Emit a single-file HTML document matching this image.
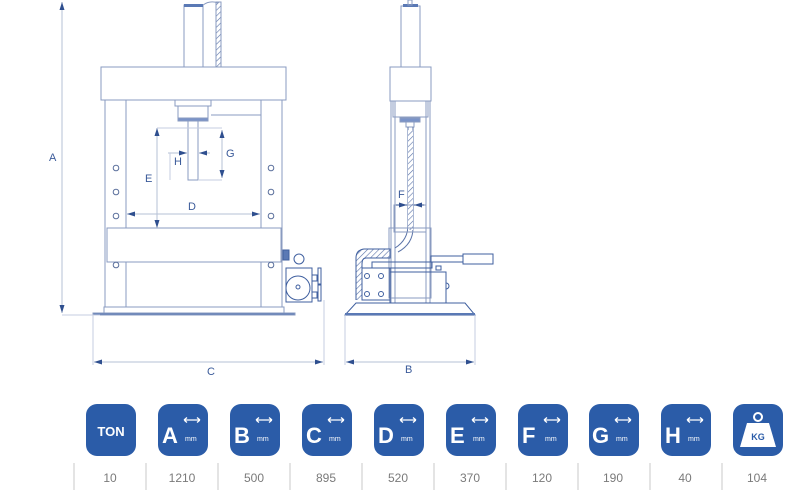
<!DOCTYPE html>
<html><head><meta charset="utf-8"><style>
html,body{margin:0;padding:0;background:#fff;width:795px;height:494px;overflow:hidden}
svg{display:block}
text{font-family:"Liberation Sans",sans-serif}
</style></head><body>
<svg width="795" height="494" viewBox="0 0 795 494" xmlns="http://www.w3.org/2000/svg">
<defs>
<pattern id="h" width="4" height="4" patternUnits="userSpaceOnUse" patternTransform="rotate(45)"><rect width="4" height="4" fill="#fff"/><line x1="0" y1="0" x2="0" y2="4" stroke="#5a73a8" stroke-width="1.2"/></pattern>
<marker id="ar" markerWidth="8" markerHeight="5" refX="8" refY="2.5" orient="auto"><path d="M0,0 L8,2.5 L0,5z" fill="#2f4f8f"/></marker>
<marker id="al" markerWidth="8" markerHeight="5" refX="0" refY="2.5" orient="auto"><path d="M8,0 L0,2.5 L8,5z" fill="#2f4f8f"/></marker>
</defs>
<g fill="none" stroke="#8a9bc0" stroke-width="1">
<rect x="184" y="5" width="19" height="62" fill="#fff"/>
<rect x="184" y="4" width="19" height="3" fill="#5a79b5" stroke="none"/>
<rect x="216" y="2" width="5" height="65" fill="url(#h)"/>
<path d="M203,5 Q210,0 218,3"/>
<rect x="101" y="67" width="185" height="33" fill="#fff"/>
<rect x="105" y="100" width="21" height="207"/>
<rect x="261" y="100" width="21" height="207"/>
<rect x="175" y="100" width="36" height="6"/>
<rect x="178" y="106" width="30" height="14"/>
<rect x="178" y="118" width="30" height="3" fill="#7a93c8"/>
<rect x="188" y="121" width="10" height="59"/>
<line x1="211" y1="115" x2="261" y2="115"/>
<rect x="107" y="228" width="174" height="34" fill="#fff"/>
<rect x="104" y="307" width="180" height="6"/>
<rect x="93" y="313" width="202" height="2" fill="#5a79b5"/>
<g stroke="#5a6f9c">
<circle cx="116" cy="168" r="2.8"/><circle cx="116" cy="192" r="2.8"/><circle cx="116" cy="216" r="2.8"/><circle cx="116" cy="265" r="2.8"/>
<circle cx="271" cy="168" r="2.8"/><circle cx="271" cy="192" r="2.8"/><circle cx="271" cy="216" r="2.8"/><circle cx="271" cy="265" r="2.8"/>
</g>
<g stroke="#3f5f9f">
<rect x="283" y="250" width="6" height="10" fill="#5a79b5"/>
<rect x="286" y="268" width="26" height="34"/>
<circle cx="298" cy="288" r="12"/>
<circle cx="298" cy="287" r="2"/>
<circle cx="299" cy="259" r="5"/>
<rect x="312" y="275" width="5" height="6"/><rect x="318" y="268" width="3" height="16"/>
<rect x="312" y="292" width="5" height="6"/><rect x="318" y="285" width="3" height="16"/>
</g>
<line x1="62" y1="2" x2="62" y2="313" stroke="#b5c0d6" marker-start="url(#al)" marker-end="url(#ar)"/>
<line x1="62" y1="315" x2="100" y2="315" stroke="#c5cde0"/>
<line x1="93" y1="315" x2="93" y2="365" stroke="#c5cde0"/>
<line x1="324" y1="300" x2="324" y2="365" stroke="#c5cde0"/>
<line x1="94" y1="362" x2="323" y2="362" stroke="#b5c0d6" marker-start="url(#al)" marker-end="url(#ar)"/>
<line x1="127" y1="214" x2="260" y2="214" stroke="#b5c0d6" marker-start="url(#al)" marker-end="url(#ar)"/>
<line x1="157" y1="128" x2="157" y2="228" stroke="#b5c0d6" marker-start="url(#al)" marker-end="url(#ar)"/>
<line x1="157" y1="128" x2="222" y2="128" stroke="#c5cde0"/>
<line x1="198" y1="180" x2="222" y2="180" stroke="#c5cde0"/>
<line x1="222" y1="130" x2="222" y2="178" stroke="#b5c0d6" marker-start="url(#al)" marker-end="url(#ar)"/>
<line x1="168" y1="153" x2="187" y2="153" stroke="#b5c0d6" marker-end="url(#ar)"/>
<line x1="210" y1="153" x2="199" y2="153" stroke="#b5c0d6" marker-end="url(#ar)"/>
<line x1="170" y1="153" x2="170" y2="180" stroke="#c5cde0"/>
<rect x="401" y="6" width="19" height="61"/>
<rect x="403" y="4" width="15" height="3" fill="#5a79b5" stroke="none"/>
<rect x="408" y="0" width="4" height="5"/>
<rect x="390" y="67" width="41" height="34" fill="#fff"/>
<rect x="393" y="101" width="35" height="16"/>
<line x1="391" y1="101" x2="391" y2="303"/><line x1="395" y1="101" x2="395" y2="303"/>
<line x1="426" y1="101" x2="426" y2="303"/><line x1="430" y1="101" x2="430" y2="303"/>
<rect x="400" y="118" width="20" height="4" fill="#7a93c8"/>
<rect x="406" y="122" width="8" height="5"/>
<path d="M408,127 L408,225 Q408,240 395,248 M413,127 L413,228 Q413,244 398,252" stroke="#5a73a8"/>
<rect x="408" y="130" width="5" height="100" fill="url(#h)" stroke="none"/>
<rect x="394" y="205" width="32" height="27"/>
<rect x="389" y="228" width="42" height="70"/>
<g stroke="#3f5f9f">
<path d="M356,300 L356,258 Q356,250 364,249 L390,249 L390,258 L366,258 Q362,258 362,264 L362,300" fill="url(#h)"/>
<rect x="372" y="262" width="60" height="6"/>
<rect x="431" y="256" width="32" height="6"/>
<rect x="463" y="254" width="30" height="10"/>
<rect x="362" y="268" width="28" height="32"/>
<rect x="390" y="272" width="56" height="31"/>
<circle cx="367" cy="276" r="2.5"/><circle cx="381" cy="276" r="2.5"/>
<circle cx="367" cy="294" r="2.5"/><circle cx="381" cy="294" r="2.5"/>
<rect x="436" y="266" width="5" height="4"/>
<path d="M446,283 a3,3 0 0 1 0,6"/>
<path d="M356,303 L465,303 L475,315 L345,315 Z" fill="#fff"/>
<rect x="345" y="313" width="130" height="2" fill="#5a79b5" stroke="none"/>
</g>
<line x1="345" y1="315" x2="345" y2="365" stroke="#c5cde0"/>
<line x1="475" y1="315" x2="475" y2="365" stroke="#c5cde0"/>
<line x1="346" y1="362" x2="474" y2="362" stroke="#b5c0d6" marker-start="url(#al)" marker-end="url(#ar)"/>
<line x1="396" y1="205" x2="407" y2="205" stroke="#2f4f8f" marker-end="url(#ar)"/>
<line x1="424" y1="205" x2="414" y2="205" stroke="#2f4f8f" marker-end="url(#ar)"/>
</g>
<g fill="#3a5a99" font-size="11">
<text x="49" y="161">A</text><text x="207" y="375">C</text><text x="188" y="210">D</text>
<text x="145" y="182">E</text><text x="226" y="157">G</text><text x="174" y="165">H</text>
<text x="398" y="198">F</text><text x="405" y="373">B</text>
</g>
<g fill="#2b5ca8">
<rect x="86" y="404" width="50" height="52" rx="11"/>
<rect x="158" y="404" width="50" height="52" rx="11"/>
<rect x="230" y="404" width="50" height="52" rx="11"/>
<rect x="302" y="404" width="50" height="52" rx="11"/>
<rect x="374" y="404" width="50" height="52" rx="11"/>
<rect x="446" y="404" width="50" height="52" rx="11"/>
<rect x="518" y="404" width="50" height="52" rx="11"/>
<rect x="589" y="404" width="50" height="52" rx="11"/>
<rect x="661" y="404" width="50" height="52" rx="11"/>
<rect x="733" y="404" width="50" height="52" rx="11"/>
</g>
<g fill="#fff" font-weight="bold">
<text x="111" y="436" font-size="13" text-anchor="middle">TON</text>
<text x="162" y="443" font-size="22">A</text>
<text x="234" y="443" font-size="22">B</text>
<text x="306" y="443" font-size="22">C</text>
<text x="378" y="443" font-size="22">D</text>
<text x="450" y="443" font-size="22">E</text>
<text x="522" y="443" font-size="22">F</text>
<text x="592" y="443" font-size="22">G</text>
<text x="665" y="443" font-size="22">H</text>
</g>
<g fill="#fff" font-size="7">
<text x="185" y="441">mm</text><text x="257" y="441">mm</text><text x="329" y="441">mm</text>
<text x="401" y="441">mm</text><text x="473" y="441">mm</text><text x="545" y="441">mm</text>
<text x="616" y="441">mm</text><text x="688" y="441">mm</text>
</g>
<g stroke="#fff" stroke-width="1.3" fill="none">
<path d="M184,420 h16 M184,420 l3,-2.5 M184,420 l3,2.5 M200,420 l-3,-2.5 M200,420 l-3,2.5"/>
<path d="M184,420 h16 M184,420 l3,-2.5 M184,420 l3,2.5 M200,420 l-3,-2.5 M200,420 l-3,2.5" transform="translate(72,0)"/>
<path d="M184,420 h16 M184,420 l3,-2.5 M184,420 l3,2.5 M200,420 l-3,-2.5 M200,420 l-3,2.5" transform="translate(144,0)"/>
<path d="M184,420 h16 M184,420 l3,-2.5 M184,420 l3,2.5 M200,420 l-3,-2.5 M200,420 l-3,2.5" transform="translate(216,0)"/>
<path d="M184,420 h16 M184,420 l3,-2.5 M184,420 l3,2.5 M200,420 l-3,-2.5 M200,420 l-3,2.5" transform="translate(288,0)"/>
<path d="M184,420 h16 M184,420 l3,-2.5 M184,420 l3,2.5 M200,420 l-3,-2.5 M200,420 l-3,2.5" transform="translate(360,0)"/>
<path d="M184,420 h16 M184,420 l3,-2.5 M184,420 l3,2.5 M200,420 l-3,-2.5 M200,420 l-3,2.5" transform="translate(431,0)"/>
<path d="M184,420 h16 M184,420 l3,-2.5 M184,420 l3,2.5 M200,420 l-3,-2.5 M200,420 l-3,2.5" transform="translate(503,0)"/>
<circle cx="758" cy="417" r="4" stroke-width="2"/>
</g>
<path d="M747,423 L769,423 L776,447 L740,447 Z" fill="#fff"/>
<text x="758" y="440" font-size="9" font-weight="bold" fill="#2b5ca8" text-anchor="middle">KG</text>
<g stroke="#c8c8c8">
<line x1="74" y1="463" x2="74" y2="490"/><line x1="146" y1="463" x2="146" y2="490"/>
<line x1="218" y1="463" x2="218" y2="490"/><line x1="290" y1="463" x2="290" y2="490"/>
<line x1="362" y1="463" x2="362" y2="490"/><line x1="434" y1="463" x2="434" y2="490"/>
<line x1="506" y1="463" x2="506" y2="490"/><line x1="578" y1="463" x2="578" y2="490"/>
<line x1="650" y1="463" x2="650" y2="490"/><line x1="722" y1="463" x2="722" y2="490"/>
</g>
<g fill="#7a7a7a" font-size="12" text-anchor="middle">
<text x="110" y="482">10</text><text x="182" y="482">1210</text><text x="254" y="482">500</text>
<text x="326" y="482">895</text><text x="398" y="482">520</text><text x="470" y="482">370</text>
<text x="542" y="482">120</text><text x="613" y="482">190</text><text x="685" y="482">40</text>
<text x="757" y="482">104</text>
</g>
</svg>
</body></html>
